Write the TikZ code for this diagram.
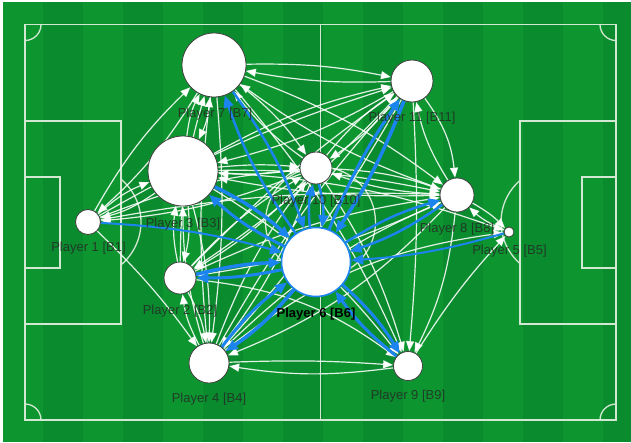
\documentclass[tikz,border=0pt]{standalone}
\usepackage{fontspec}
\setmainfont{Liberation Sans}
\usetikzlibrary{arrows.meta}
\definecolor{gl}{RGB}{13,150,48}
\definecolor{gd}{RGB}{10,139,45}
\definecolor{pblue}{RGB}{28,132,238}
\definecolor{pline}{RGB}{210,232,210}
\pgfdeclarelayer{bg}\pgfdeclarelayer{lab}\pgfdeclarelayer{edg}
\pgfsetlayers{bg,edg,lab,main}
\tikzset{
 player/.style={circle, draw=black!75, fill=white, line width=0.8pt, inner sep=0pt},
 plabel/.style={text=black!85, text opacity=0.8, font=\fontsize{13}{15}\selectfont, inner sep=0pt},
 we/.style={draw=white, draw opacity=0.88, line width=1.2pt, -{Triangle[length=10pt,width=8pt,fill=white]}},
 be/.style={draw=pblue, line width=2.5pt, -{Triangle[length=12pt,width=10pt,fill=pblue]}},
 pitch/.style={draw=pline, line width=1.3pt},
}
\begin{document}
\begin{tikzpicture}[x=1pt,y=-1pt]
\useasboundingbox (0,0) rectangle (631,442);
\begin{pgfonlayer}{bg}
\fill[white] (0,0) rectangle (631,442);
\foreach \i in {0,...,15}{
  \pgfmathsetmacro{\xa}{3+40*\i}
  \pgfmathsetmacro{\xb}{min(631,43+40*\i)}
  \ifodd\i \fill[gd] (\xa,2) rectangle (\xb,442); \else \fill[gl] (\xa,2) rectangle (\xb,442); \fi
}
\draw[pitch] (25,24.5) rectangle (616,420);
\draw[pitch] (320.5,24.5) -- (320.5,420);
\draw[pitch] (320.5,222) circle[radius=55pt];
\draw[pitch] (25,121) rectangle (121,324);
\draw[pitch] (25,177) rectangle (60,268);
\draw[pitch] (616,121) rectangle (520,324);
\draw[pitch] (616,177) rectangle (582,268);
\draw[pitch] (85,222) ++(-50:56pt) arc[start angle=-50,end angle=50,radius=56pt];
\draw[pitch] (556,222) ++(131:55pt) arc[start angle=131,end angle=229,radius=55pt];
\draw[pitch] (25,40.5) arc[start angle=-90,end angle=0,radius=16pt];
\draw[pitch] (600,24.5) arc[start angle=180,end angle=270,radius=16pt];
\draw[pitch] (25,404) arc[start angle=90,end angle=0,radius=16pt];
\draw[pitch] (600,420) arc[start angle=180,end angle=90,radius=16pt];
\end{pgfonlayer}

\node[player, minimum size=25pt] (p1) at (88,222) {};
\node[player, minimum size=32pt] (p2) at (180,278) {};
\node[player, minimum size=70pt] (p3) at (183,171) {};
\node[player, minimum size=40pt] (p4) at (209,363) {};
\node[player, minimum size=10pt] (p5) at (509,232) {};
\node[player, draw=pblue, line width=1.6pt, minimum size=69pt] (p6) at (316,262) {};
\node[player, minimum size=64pt] (p7) at (214,65) {};
\node[player, minimum size=34pt] (p8) at (457,195) {};
\node[player, minimum size=29pt] (p9) at (408,366) {};
\node[player, minimum size=32pt] (p10) at (316,168) {};
\node[player, minimum size=42pt] (p11) at (412,81) {};

\begin{pgfonlayer}{lab}
\node[plabel] (l1) at (88.5,248) {Player 1 [B1]};
\node[plabel] (l2) at (180,311) {Player 2 [B2]};
\node[plabel] (l3) at (183,224) {Player 3 [B3]};
\node[plabel] (l4) at (209,399) {Player 4 [B4]};
\node[plabel] (l5) at (509.5,251) {Player 5 [B5]};
\node[plabel] (l7) at (215,114) {Player 7 [B7]};
\node[plabel] (l8) at (457,229) {Player 8 [B8]};
\node[plabel] (l9) at (408,396) {Player 9 [B9]};
\node[plabel] (l10) at (316,201) {Player 10 [B10]};
\node[plabel] (l11) at (412,118) {Player 11 [B11]};
\node[plabel, text=black, text opacity=1, font=\bfseries\fontsize{13}{15}\selectfont] (l6) at (316,314) {Player 6 [B6]};
\end{pgfonlayer}

\begin{pgfonlayer}{edg}
\foreach \a/\b/\c in {1/3/10,3/1/10,1/7/8,7/1/8,1/4/5,1/8/6,1/10/8,1/11/6,10/1/8,
 2/3/10,3/2/10,2/4/10,4/2/10,2/9/15,2/11/5,2/8/8,2/10/8,2/7/8,10/2/8,11/2/6,8/2/8,
 3/4/8,4/3/8,3/7/10,7/3/10,3/10/5,10/3/5,3/11/8,11/3/8,3/8/6,8/3/6,3/9/10,3/5/8,
 4/7/6,7/4/6,4/9/3,9/4/8,4/8/10,8/4/12,4/11/6,11/4/6,4/5/15,4/10/8,10/4/8,
 7/10/8,10/7/8,7/11/6,11/7/6,7/8/8,8/7/8,7/9/8,
 8/11/10,11/8/15,8/9/10,8/10/8,10/8/8,8/5/8,5/8/10,
 9/5/5,11/9/4,10/9/8,10/11/8,11/10/8}
  \draw[we] (p\a) to[bend left=\c] (p\b);
\foreach \a/\b/\c/\w in {1/6/6/2,2/6/6/3.5,6/2/6/3,3/6/8/3.5,6/3/8/3,4/6/8/3,6/4/8/3.5,
 5/6/6/2,7/6/8/2.5,6/7/8/2.5,8/6/8/2.5,6/8/8/2.5,9/6/8/3,6/9/8/3,
 10/6/10/2.5,6/10/10/2.5,11/6/6/3.5,6/11/6/3}
  \draw[be, line width=\w pt] (p\a) to[bend left=\c] (p\b);
\end{pgfonlayer}
\end{tikzpicture}
\end{document}
